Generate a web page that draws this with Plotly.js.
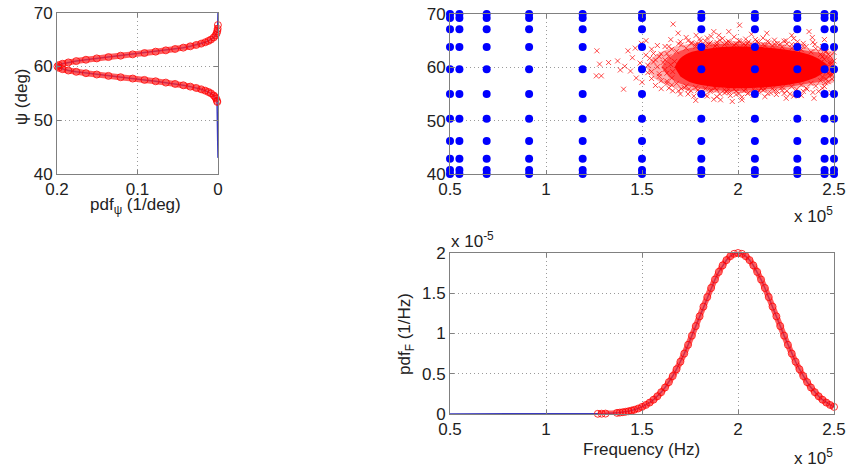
<!DOCTYPE html>
<html>
<head>
<meta charset="utf-8">
<script src="https://cdn.plot.ly/plotly-3.0.1.min.js"></script>
<style>
  html, body { margin: 0; padding: 0; background: #fff; }
  #chart { width: 849px; height: 467px; }
</style>
</head>
<body>
<div id="chart"></div>
<script>
// ---- pdf of the elevation angle psi (deg) ----
const PSI = [53.4, 53.6, 54.0, 54.3, 54.6, 55.0, 55.25, 55.5, 55.75, 56.0, 56.25, 56.5, 56.75,
  57.0, 57.25, 57.5, 57.75, 58.0, 58.25, 58.5, 58.75, 59.0, 59.25, 59.5, 59.75, 60.0, 60.25,
  60.5, 60.75, 61.0, 61.25, 61.5, 61.75, 62.0, 62.25, 62.5, 62.75, 63.0, 63.25, 63.5, 63.75,
  64.0, 64.25, 64.5, 64.75, 65.0, 65.4, 65.8, 66.2, 66.6, 67.0, 67.7];
const PDF_PSI = [0.00086, 0.00119, 0.00222, 0.00344, 0.00521, 0.00876, 0.01189, 0.01587, 0.02086,
  0.02700, 0.03439, 0.04314, 0.05327, 0.06476, 0.07751, 0.09132, 0.10594, 0.12099, 0.13603,
  0.15057, 0.16408, 0.17603, 0.18593, 0.19333, 0.19792, 0.19947, 0.19792, 0.19333, 0.18593,
  0.17603, 0.16408, 0.15057, 0.13603, 0.12099, 0.10594, 0.09132, 0.07751, 0.06476, 0.05327,
  0.04314, 0.03439, 0.02700, 0.02086, 0.01587, 0.01189, 0.00876, 0.00521, 0.00298, 0.00163,
  0.00086, 0.00044, 0.00012];
const PSI_SPAN = [43, 70];          // extent of the evaluated pdf line

// ---- pdf of the frequency (x 1e5 Hz, pdf x 1e-5 1/Hz) ----
const FREQ = [1.27, 1.29, 1.31, 1.37, 1.385, 1.40, 1.415, 1.43, 1.445,
  1.46, 1.48, 1.50, 1.52, 1.54, 1.56, 1.58, 1.60, 1.62, 1.64, 1.66, 1.68, 1.70, 1.72, 1.74,
  1.76, 1.78, 1.80, 1.82, 1.84, 1.86, 1.88, 1.90, 1.92, 1.94, 1.96, 1.98, 2.00,
  2.02, 2.04, 2.06, 2.08, 2.10, 2.12, 2.14, 2.16, 2.18, 2.20, 2.22, 2.24, 2.26, 2.28, 2.30,
  2.32, 2.34, 2.36, 2.38, 2.40, 2.42, 2.44, 2.46, 2.48, 2.50];
const PDF_F = [0.0026, 0.0037, 0.0052, 0.0140, 0.0177, 0.0222, 0.0277, 0.0345, 0.0426,
  0.0522, 0.0681, 0.0879, 0.1123, 0.1420, 0.1778, 0.2205, 0.2707, 0.3289, 0.3958, 0.4715,
  0.5561, 0.6493, 0.7506, 0.8591, 0.9735, 1.0921, 1.2131, 1.3340, 1.4523, 1.5654, 1.6705,
  1.7650, 1.8462, 1.9120, 1.9604, 1.9900, 2.0000,
  1.9900, 1.9604, 1.9120, 1.8462, 1.7650, 1.6705, 1.5654, 1.4523, 1.3340, 1.2131, 1.0921,
  0.9735, 0.8591, 0.7506, 0.6493, 0.5561, 0.4715, 0.3958, 0.3289, 0.2707, 0.2205, 0.1778,
  0.1420, 0.1123, 0.0879];
const FREQ_START = 0.5;             // the pdf line starts at the left end of the band

// ---- collocation nodes (frequency x 1e5 Hz, psi deg) ----
const NODE_F = [0.5, 0.549, 0.691, 0.912, 1.191, 1.5, 1.809, 2.088, 2.309, 2.451, 2.5];
const NODE_PSI = [40, 40.73, 42.86, 46.18, 50.36, 55, 59.64, 63.82, 67.14, 69.27, 70];

// ---- Monte Carlo samples: dense core outlines and individual samples ----
const HALO_F   = [1.52, 1.56, 1.64, 1.77, 1.92, 2.08, 2.24, 2.38, 2.50, 2.56, 2.50, 2.38, 2.24, 2.08, 1.92, 1.77, 1.64, 1.56];
const HALO_PSI = [60, 62.0, 63.5, 64.5, 64.9, 64.8, 64.3, 63.5, 62.8, 60, 57.2, 56.6, 55.9, 55.3, 55.2, 55.6, 56.5, 58.0];
const MID_F    = [1.60, 1.64, 1.70, 1.81, 1.95, 2.09, 2.24, 2.36, 2.46, 2.52, 2.46, 2.36, 2.24, 2.09, 1.95, 1.81, 1.70, 1.64];
const MID_PSI  = [60, 61.8, 63.1, 64.0, 64.4, 64.3, 63.8, 63.1, 62.3, 60, 57.7, 56.9, 56.2, 55.7, 55.6, 56.0, 56.9, 58.2];
const CORE_F   = [1.67, 1.70, 1.76, 1.86, 1.98, 2.12, 2.25, 2.35, 2.42, 2.47, 2.42, 2.35, 2.25, 2.12, 1.98, 1.86, 1.76, 1.70];
const CORE_PSI = [60, 61.7, 62.9, 63.6, 63.9, 63.8, 63.3, 62.6, 61.6, 60, 58.4, 57.4, 56.7, 56.2, 56.1, 56.4, 57.1, 58.3];

// outlying samples around the dense core
const SAMPLE_F = [
  1.265, 1.279, 1.326, 1.262, 1.288, 1.373, 1.387, 1.427, 1.404, 1.465, 1.497, 1.521, 1.41, 1.44, 1.45,
  1.47, 1.49, 1.50, 1.52, 1.53, 1.55, 1.55, 1.56, 1.57, 1.58, 1.59, 1.60, 1.60, 1.62, 1.63,
  1.662, 1.688, 1.782, 1.874, 1.952, 2.008, 2.37, 2.387,
  1.65, 1.70, 1.73, 1.76, 1.80, 1.83, 1.86, 1.89, 1.92, 1.95, 1.98, 2.01, 2.04, 2.07, 2.10, 2.13,
  2.16, 2.19, 2.22, 2.25, 2.28, 2.31, 2.34,
  2.40, 2.43, 2.45, 1.90, 2.15, 2.28, 1.78, 2.05, 1.85,
  2.396, 2.486, 2.251, 1.909, 1.97, 1.874,
  1.66, 1.70, 1.74, 1.77, 1.80, 1.83, 1.86, 1.89, 1.93, 1.96, 1.99, 2.02, 2.05, 2.08, 2.11, 2.14,
  2.17, 2.20, 2.23, 2.27, 2.30, 2.33, 2.36, 2.42, 2.45,
  1.72, 1.95, 2.12, 2.02, 1.78,
  2.47, 2.49, 2.50, 2.51, 2.50, 2.48, 2.46, 2.44, 2.52, 2.49, 2.47, 2.48];
const SAMPLE_PSI = [
  63.1, 60.6, 60.9, 58.4, 58.4, 61.2, 59.5, 63.1, 55.9, 63.6, 64.5, 65.0, 60.2, 59.3, 61.8,
  58.0, 60.8, 57.2, 62.3, 59.0, 63.4, 57.9, 61.0, 56.6, 64.1, 58.8, 62.5, 56.0, 63.9, 57.0,
  68.1, 66.4, 66.0, 66.7, 66.7, 67.9, 66.7, 65.6,
  65.2, 64.8, 65.6, 64.6, 65.3, 64.9, 65.8, 64.7, 65.4, 64.9, 65.7, 64.8, 65.3, 66.2, 64.9, 65.5,
  64.6, 65.1, 64.4, 65.0, 64.3, 64.8, 64.0,
  64.3, 63.4, 65.2, 66.0, 66.4, 66.0, 64.3, 64.5, 64.4,
  54.2, 55.25, 54.2, 53.9, 53.6, 54.0,
  55.6, 55.0, 55.8, 54.6, 55.3, 54.8, 55.7, 54.5, 55.2, 54.7, 55.5, 54.4, 55.1, 54.8, 55.6, 54.5,
  55.2, 54.9, 55.7, 55.0, 55.6, 54.7, 55.9, 55.5, 56.4,
  56.2, 55.9, 56.1, 53.9, 53.8,
  57.3, 58.6, 59.4, 60.3, 61.2, 62.1, 63.0, 62.0, 59.8, 57.8, 58.9, 61.0];

// samples on the rim of the dense core
const RIM_F = [
  1.63, 1.655, 1.68, 1.705, 1.73, 1.755, 1.78, 1.805, 1.83, 1.855, 1.88, 1.905, 1.93, 1.955, 1.98, 2.005, 2.03,
  2.055, 2.08, 2.105, 2.13, 2.155, 2.18, 2.205, 2.23, 2.255, 2.28, 2.305, 2.33, 2.355, 2.38, 2.405, 2.43, 2.455,
  1.64, 1.69, 1.74, 1.79, 1.84, 1.89, 1.94, 1.99, 2.04, 2.09, 2.14, 2.19, 2.24, 2.29, 2.34, 2.39, 2.44,
  1.63, 1.655, 1.68, 1.705, 1.73, 1.755, 1.78, 1.805, 1.83, 1.855, 1.88, 1.905, 1.93, 1.955, 1.98, 2.005, 2.03,
  2.055, 2.08, 2.105, 2.13, 2.155, 2.18, 2.205, 2.23, 2.255, 2.28, 2.305, 2.33, 2.355, 2.38, 2.405, 2.43, 2.455,
  1.64, 1.69, 1.74, 1.79, 1.84, 1.89, 1.94, 1.99, 2.04, 2.09, 2.14, 2.19, 2.24, 2.29, 2.34, 2.39, 2.44,
  1.53, 1.55, 1.57, 1.59, 1.61, 1.62, 1.64, 1.655, 1.67, 1.54, 1.58, 1.60, 1.63, 1.65, 1.66, 1.56, 1.59, 1.62,
  2.44, 2.46, 2.48, 2.45, 2.47, 2.49, 2.43, 2.46, 2.48, 2.50];
const RIM_PSI = [
  62.6, 63.4, 63.0, 64.2, 63.6, 64.5, 63.9, 64.9, 64.1, 64.6, 64.0, 65.1, 64.3, 64.7, 64.2, 65.0, 64.4,
  64.8, 64.1, 64.6, 64.3, 64.9, 64.0, 64.5, 63.8, 64.4, 63.6, 64.1, 63.3, 63.9, 62.9, 63.5, 62.4, 62.9,
  63.9, 64.4, 65.0, 64.4, 65.5, 64.2, 64.6, 64.4, 64.1, 65.2, 64.1, 64.4, 64.9, 65.4, 64.5, 64.7, 63.9,
  57.4, 56.7, 57.0, 56.0, 56.5, 55.6, 56.2, 55.3, 56.0, 55.5, 56.1, 55.0, 55.8, 55.3, 55.9, 55.1, 55.6,
  55.2, 55.9, 55.4, 55.7, 55.1, 56.0, 55.5, 56.2, 55.6, 56.4, 55.9, 56.7, 56.1, 57.0, 56.5, 57.5, 57.1,
  56.1, 55.6, 55.0, 55.7, 54.6, 55.8, 55.4, 54.9, 55.9, 54.8, 55.9, 55.6, 55.1, 54.6, 55.5, 55.3, 56.1,
  60.4, 59.2, 61.4, 58.3, 60.9, 59.6, 62.0, 58.0, 61.1, 61.7, 60.1, 57.5, 58.9, 60.5, 59.2, 62.6, 62.0, 61.4,
  58.2, 59.1, 60.6, 61.5, 62.4, 59.9, 60.9, 57.8, 58.6, 62.8];

// ---- styling ----
const RED = '#ff0000';
const RED_X = 'rgba(255,0,0,0.7)';
const BLUE_LINE = '#3a3ac0';
const BLUE_DOT = '#0000ff';
const FONT = 'Liberation Sans, Arial, Helvetica, sans-serif';
const W = 849, H = 467;
const px = v => v / W;
const py = v => 1 - v / H;

// full tensor grid of collocation nodes
const gridF = [], gridPsi = [];
NODE_F.forEach(f => NODE_PSI.forEach(p => { gridF.push(f); gridPsi.push(p); }));

const xMarker = { symbol: 'x-thin-open', size: 5, color: RED_X, line: { width: 1, color: RED_X } };

const traces = [
  // psi pdf: evaluated line then the sample markers
  { x: [0, ...PDF_PSI, 0], y: [PSI_SPAN[0], ...PSI, PSI_SPAN[1]], xaxis: 'x', yaxis: 'y',
    mode: 'lines', line: { color: BLUE_LINE, width: 1.5 }, cliponaxis: false },
  { x: PDF_PSI, y: PSI, xaxis: 'x', yaxis: 'y', mode: 'lines+markers', cliponaxis: false,
    line: { color: 'rgba(255,40,40,0.75)', width: 6, shape: 'spline' },
    marker: { symbol: 'circle-open', size: 7, color: 'rgba(255,0,0,0.8)', line: { width: 1, color: 'rgba(255,0,0,0.8)' } } },

  // sample cloud in the (F, psi) plane
  { x: HALO_F, y: HALO_PSI, xaxis: 'x2', yaxis: 'y2', mode: 'lines', fill: 'toself',
    fillcolor: 'rgba(255,0,0,0.3)', line: { width: 0, shape: 'spline' } },
  { x: MID_F, y: MID_PSI, xaxis: 'x2', yaxis: 'y2', mode: 'lines', fill: 'toself',
    fillcolor: 'rgba(255,0,0,0.55)', line: { width: 0, shape: 'spline' } },
  { x: CORE_F, y: CORE_PSI, xaxis: 'x2', yaxis: 'y2', mode: 'lines', fill: 'toself',
    fillcolor: 'rgb(255,0,0)', line: { width: 0, shape: 'spline' } },
  { x: RIM_F, y: RIM_PSI, xaxis: 'x2', yaxis: 'y2', mode: 'markers', cliponaxis: false, marker: xMarker },
  { x: SAMPLE_F, y: SAMPLE_PSI, xaxis: 'x2', yaxis: 'y2', mode: 'markers', cliponaxis: false, marker: xMarker },
  { x: gridF, y: gridPsi, xaxis: 'x2', yaxis: 'y2', mode: 'markers', cliponaxis: false,
    marker: { symbol: 'circle', size: 8, color: BLUE_DOT } },

  // frequency pdf
  { x: [FREQ_START, ...FREQ], y: [0, ...PDF_F], xaxis: 'x3', yaxis: 'y3', mode: 'lines',
    line: { color: BLUE_LINE, width: 1.5 }, cliponaxis: false },
  { x: FREQ, y: PDF_F, xaxis: 'x3', yaxis: 'y3', mode: 'lines+markers', cliponaxis: false,
    line: { color: 'rgba(255,40,40,0.75)', width: 6, shape: 'spline' },
    marker: { symbol: 'circle-open', size: 7, color: 'rgba(255,0,0,0.8)', line: { width: 1, color: 'rgba(255,0,0,0.8)' } } }
];

function axis(extra) {
  return Object.assign({
    showline: true, mirror: 'ticks', linecolor: '#808080', linewidth: 1,
    ticks: 'inside', ticklen: 4, tickcolor: '#808080',
    showgrid: true, gridcolor: '#9a9a9a', griddash: '1px,3px', gridwidth: 1,
    zeroline: false, tickfont: { family: FONT, size: 17, color: '#222' },
    fixedrange: true
  }, extra);
}

const annFont = { family: FONT, size: 17, color: '#222' };
const layout = {
  width: W, height: H,
  margin: { l: 0, r: 0, t: 0, b: 0 },
  paper_bgcolor: '#fff', plot_bgcolor: '#fff',
  showlegend: false,
  font: { family: FONT, size: 17, color: '#222' },
  xaxis: axis({ domain: [px(57), px(218)], range: [0.2, 0], tickvals: [0, 0.1, 0.2], ticktext: ['0', '0.1', '0.2'], anchor: 'y' }),
  yaxis: axis({ domain: [py(174), py(12.7)], range: [40, 70], tickvals: [40, 50, 60, 70], anchor: 'x' }),
  xaxis2: axis({ domain: [px(450), px(834)], range: [0.5, 2.5], tickvals: [0.5, 1, 1.5, 2, 2.5], ticktext: ['0.5', '1', '1.5', '2', '2.5'], anchor: 'y2' }),
  yaxis2: axis({ domain: [py(174), py(14)], range: [40, 70], tickvals: [40, 50, 60, 70], anchor: 'x2' }),
  xaxis3: axis({ domain: [px(450), px(834)], range: [0.5, 2.5], tickvals: [0.5, 1, 1.5, 2, 2.5], ticktext: ['0.5', '1', '1.5', '2', '2.5'], anchor: 'y3' }),
  yaxis3: axis({ domain: [py(414), py(253)], range: [0, 2], tickvals: [0, 0.5, 1, 1.5, 2], ticktext: ['0', '0.5', '1', '1.5', '2'], anchor: 'x3' }),
  annotations: [
    { text: 'ψ (deg)', xref: 'paper', yref: 'paper', x: px(21), y: py(97), textangle: -90,
      showarrow: false, xanchor: 'center', yanchor: 'middle', font: annFont },
    { text: 'pdf<sub>ψ</sub> (1/deg)', xref: 'paper', yref: 'paper', x: px(135), y: py(206),
      showarrow: false, xanchor: 'center', yanchor: 'middle', font: annFont },
    { text: 'x 10<sup>5</sup>', xref: 'paper', yref: 'paper', x: px(792), y: py(215),
      showarrow: false, xanchor: 'left', yanchor: 'middle', font: annFont },
    { text: 'x 10<sup>-5</sup>', xref: 'paper', yref: 'paper', x: px(449), y: py(240),
      showarrow: false, xanchor: 'left', yanchor: 'middle', font: annFont },
    { text: 'pdf<sub>F</sub> (1/Hz)', xref: 'paper', yref: 'paper', x: px(406), y: py(334), textangle: -90,
      showarrow: false, xanchor: 'center', yanchor: 'middle', font: annFont },
    { text: 'Frequency (Hz)', xref: 'paper', yref: 'paper', x: px(641), y: py(449),
      showarrow: false, xanchor: 'center', yanchor: 'middle', font: annFont },
    { text: 'x 10<sup>5</sup>', xref: 'paper', yref: 'paper', x: px(792), y: py(457),
      showarrow: false, xanchor: 'left', yanchor: 'middle', font: annFont }
  ]
};

Plotly.newPlot('chart', traces, layout, { staticPlot: true, displayModeBar: false });
</script>
</body>
</html>
